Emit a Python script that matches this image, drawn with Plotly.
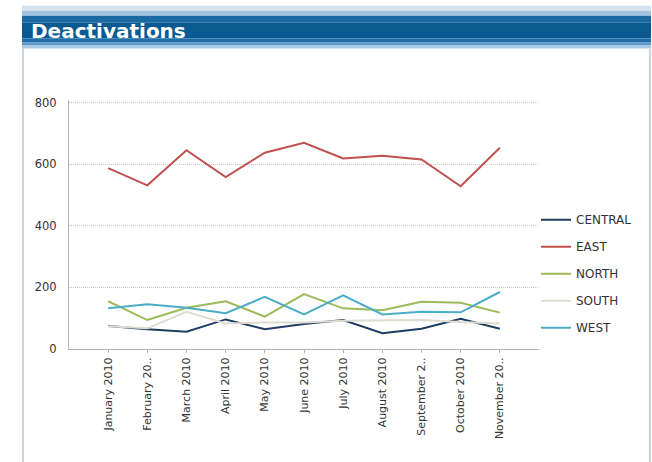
import plotly.graph_objects as go

# monthly deactivations by region
months = ["January 2010", "February 2010", "March 2010", "April 2010", "May 2010",
          "June 2010", "July 2010", "August 2010", "September 2010", "October 2010",
          "November 2010"]
month_labels = ["January 2010", "February 20..", "March 2010", "April 2010", "May 2010",
                "June 2010", "July 2010", "August 2010", "September 2..", "October 2010",
                "November 20.."]

central = [75, 64, 56, 96, 64, 81, 94, 51, 66, 98, 66]
east = [587, 531, 645, 558, 637, 669, 618, 627, 615, 528, 653]
north = [155, 94, 134, 155, 105, 178, 132, 126, 153, 150, 118]
south = [74, 67, 121, 83, 86, 86, 92, 94, 94, 88, 83]
west = [132, 145, 134, 116, 169, 112, 174, 112, 121, 119, 185]

series = [
    ("CENTRAL", central, "#1f3d63"),
    ("EAST", east, "#c0504d"),
    ("NORTH", north, "#9bbb59"),
    ("SOUTH", south, "#dcdcd0"),
    ("WEST", west, "#4bacc6"),
]

W, H = 652, 462
L, R, T, B = 69, 539, 99.5, 349  # plot area in pixels (top has a few units of headroom)
Y_MAX = 808


def px(x):
    return (x - L) / (R - L)


def py(y):
    return (B - y) / (B - T)


fig = go.Figure()
for name, vals, color in series:
    fig.add_trace(go.Scatter(
        x=list(range(len(months))), y=vals, name=name, mode="lines",
        line=dict(color=color, width=2), legendgroup=name,
        customdata=months,
        hovertemplate="%{customdata}<br>" + name + ": %{y}<extra></extra>",
    ))

# panel frame + header bar
shapes = []
bands = [(5, 10, "#d3e3f0"), (10, 15, "#a3c4e0"), (15, 22, "#1a6aa1"),
         (22, 38, "#0a5a92"), (38, 42, "#1f6ea6"), (42, 45, "#5d98c8"),
         (45, 48, "#a9cbe6")]
for y0, y1, c in bands:
    shapes.append(dict(type="rect", xref="paper", yref="paper",
                       x0=px(22), x1=px(651), y0=py(y1), y1=py(y0),
                       fillcolor=c, line_width=0, layer="below"))
for xb in (23, 650):
    shapes.append(dict(type="line", xref="paper", yref="paper",
                       x0=px(xb), x1=px(xb), y0=py(48), y1=py(470),
                       line=dict(color="#c6d4e4", width=2)))

fig.update_layout(
    width=W, height=H,
    margin=dict(l=L, r=W - R, t=T, b=H - B, pad=0),
    paper_bgcolor="white", plot_bgcolor="white",
    font=dict(family="DejaVu Sans", size=11, color="#333333"),
    shapes=shapes,
    annotations=[dict(
        text="<b>Deactivations</b>", xref="paper", yref="paper",
        x=px(29), y=py(30), xanchor="left", yanchor="middle", showarrow=False,
        font=dict(family="DejaVu Sans", size=20, color="white"),
    )],
    showlegend=True,
    legend=dict(x=px(536), y=py(205), xanchor="left", yanchor="top",
                font=dict(size=12, color="#333333"), tracegroupgap=8,
                bgcolor="rgba(0,0,0,0)", itemwidth=30),
    xaxis=dict(
        tickmode="array", tickvals=list(range(len(months))), ticktext=month_labels,
        range=[-1, 11], tickangle=-90, showgrid=False, zeroline=False,
        showline=True, linecolor="#b4b4b4", linewidth=1,
        ticks="outside", ticklen=3, tickcolor="#b4b4b4",
        tickfont=dict(size=11, family="DejaVu Sans"),
    ),
    yaxis=dict(
        range=[0, Y_MAX], tickvals=[0, 200, 400, 600, 800], zeroline=False,
        showline=True, linecolor="#b4b4b4", linewidth=1,
        gridcolor="#c8c8c8", griddash="1px,1px", ticks="", ticklabelstandoff=9,
        tickfont=dict(size=11.5),
    ),
)

fig.write_html("out.html", post_script="document.body.style.margin='0';",
               config={"displayModeBar": False})
